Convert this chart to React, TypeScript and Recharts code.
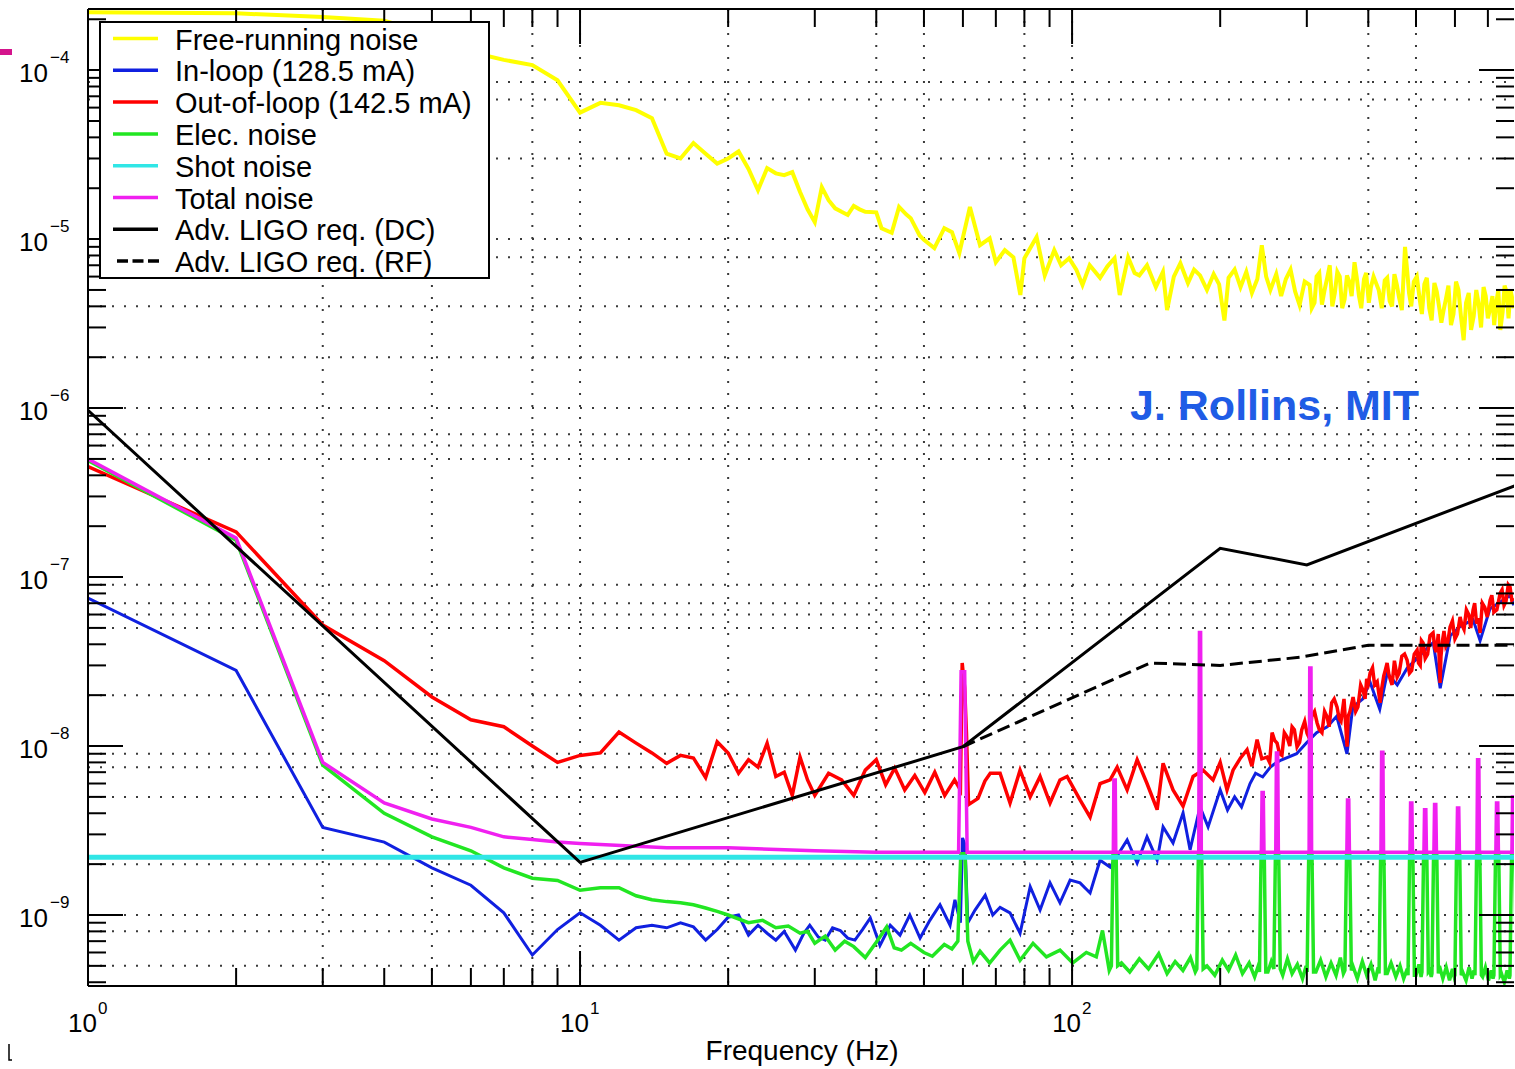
import React from 'react';
import { LineChart, Line, XAxis, YAxis, CartesianGrid } from 'recharts';

const W = 1515;
const H = 1069;
const X_DOMAIN: [number, number] = [1, 791];
const Y_DOMAIN: [number, number] = [3.8e-10, 2.3e-4];

const YELLOW = '#ffff00';
const BLUE = '#1020e0';
const RED = '#ff0000';
const GREEN = '#22e622';
const CYAN = '#30e6e6';
const MAGENTA = '#f020f0';
const BLACK = '#000000';

// Free-running noise [Hz, value]
const freeRunning: number[][] = [
  [1, 2.2e-4], [2, 2.17e-4], [3, 2.06e-4], [4, 1.96e-4], [5, 1.62e-4], [6, 1.28e-4], [7, 1.15e-4], [8, 1.07e-4],
  [9, 8.7e-5], [10, 5.6e-5], [11, 6.4e-5], [12, 6.2e-5], [13, 5.8e-5], [14, 5.2e-5], [15, 3.2e-5], [16, 3.0e-5],
  [17, 3.7e-5], [18, 3.2e-5], [19, 2.8e-5], [20, 3.0e-5], [21, 3.3e-5], [22, 2.6e-5], [23, 1.95e-5], [24, 2.63e-5],
  [25, 2.45e-5], [26, 2.39e-5], [27, 2.49e-5], [28, 1.9e-5], [29, 1.5e-5], [30, 1.26e-5], [31, 2.03e-5], [32, 1.7e-5],
  [33, 1.52e-5], [34, 1.45e-5], [35, 1.39e-5], [36, 1.57e-5], [37, 1.5e-5], [38, 1.45e-5], [40, 1.44e-5], [41, 1.16e-5],
  [43, 1.09e-5], [44.5, 1.55e-5], [46, 1.4e-5], [47, 1.33e-5], [49, 1.05e-5], [50, 9.9e-6], [52.5, 8.85e-6], [55, 1.16e-5],
  [57, 1.1e-5], [59, 8.26e-6], [62, 1.55e-5], [65, 9.2e-6], [68, 1.01e-5], [70, 7.3e-6], [73, 8.6e-6], [76, 7.8e-6],
  [78.5, 4.67e-6], [80, 7.7e-6], [84.7, 1.03e-5], [88, 6.1e-6], [92, 8.6e-6], [95, 7.0e-6], [98.6, 7.7e-6], [102, 6.6e-6],
  [105, 5.35e-6], [108.6, 7.0e-6], [114, 5.9e-6], [118, 6.9e-6], [122, 7.7e-6], [125, 4.67e-6], [130, 7.8e-6], [134, 6.3e-6],
  [137, 6.1e-6], [142, 7.0e-6], [148, 5.2e-6], [153, 6.4e-6], [156, 3.8e-6], [161, 6.0e-6], [166, 7.2e-6], [172, 5.5e-6],
  [177, 6.6e-6], [182, 6.1e-6], [188, 5.0e-6], [194, 6.2e-6], [199, 5.4e-6], [204, 3.3e-6], [208, 5.9e-6], [214, 6.6e-6],
  [220, 5.2e-6], [226, 6.4e-6], [232, 4.8e-6], [238, 5.8e-6], [243, 9.2e-6], [248, 6.0e-6], [253, 5.0e-6], [260, 6.2e-6],
  [266, 4.6e-6], [272, 5.8e-6], [278, 6.6e-6], [284, 4.9e-6], [290, 4.07e-6], [297, 5.6e-6], [304, 5.35e-6], [307, 3.9e-6],
  [311, 4.2e-6], [314, 6.0e-6], [318, 6.3e-6], [322, 4.1e-6], [326, 5.0e-6], [330, 5.9e-6], [334, 7.0e-6], [338, 4.0e-6],
  [342, 4.8e-6], [346, 6.4e-6], [350, 6.0e-6], [354, 3.9e-6], [358, 4.4e-6], [362, 6.1e-6], [366, 5.6e-6], [370, 4.6e-6],
  [375, 7.3e-6], [379, 5.9e-6], [383, 4.6e-6], [387, 3.9e-6], [392, 5.8e-6], [396, 6.3e-6], [401, 4.2e-6], [405, 5.2e-6],
  [410, 6.0e-6], [420, 5.0e-6], [426, 3.9e-6], [432, 5.7e-6], [437, 5.9e-6], [442, 4.3e-6], [447, 4.0e-6], [452, 6.2e-6],
  [457, 5.4e-6], [462, 4.5e-6], [468, 3.8e-6], [475, 9.0e-6], [480, 6.4e-6], [484, 4.8e-6], [489, 4.0e-6], [495, 5.6e-6],
  [502, 6.0e-6], [509, 4.36e-6], [514, 3.6e-6], [520, 5.4e-6], [526, 5.9e-6], [532, 3.9e-6], [538, 3.3e-6], [545, 5.5e-6],
  [551, 4.9e-6], [557, 4.0e-6], [563, 3.2e-6], [569, 3.8e-6], [575, 4.4e-6], [582, 5.3e-6], [589, 3.1e-6], [596, 3.6e-6],
  [603, 5.6e-6], [610, 5.0e-6], [617, 3.5e-6], [625, 2.52e-6], [632, 4.2e-6], [640, 4.8e-6], [647, 2.9e-6], [655, 3.5e-6],
  [663, 5.0e-6], [671, 4.07e-6], [678, 3.0e-6], [686, 5.2e-6], [693, 4.6e-6], [700, 3.4e-6], [708, 3.9e-6], [715, 4.6e-6],
  [721, 3.1e-6], [728, 4.2e-6], [735, 5.0e-6], [742, 2.9e-6], [750, 3.7e-6], [757, 5.3e-6], [765, 4.8e-6], [771, 3.4e-6],
  [778, 5.0e-6], [784, 4.5e-6], [790, 3.9e-6],
];

// In-loop (128.5 mA)
const inLoop: number[][] = [
  [1, 7.5e-8], [2, 2.8e-8], [3, 3.3e-9], [4, 2.7e-9], [5, 1.9e-9], [6, 1.5e-9], [7, 1.03e-9], [8, 5.8e-10],
  [9, 8.2e-10], [10, 1.03e-9], [11, 8.7e-10], [12, 7.1e-10], [13, 8.4e-10], [14, 8.7e-10], [15, 8.4e-10], [16, 9.0e-10],
  [17, 8.5e-10], [18, 7.1e-10], [19, 8.2e-10], [20, 9.7e-10], [21, 1.0e-9], [22, 7.6e-10], [23, 8.7e-10], [24, 7.8e-10],
  [25, 7.1e-10], [26, 8.0e-10], [27.4, 6.2e-10], [28.5, 7.8e-10], [29.3, 8.7e-10], [30.5, 7.4e-10], [31.5, 7.1e-10], [32.6, 8.4e-10],
  [33.8, 8.1e-10], [35, 7.3e-10], [36.2, 7.1e-10], [37.5, 8.2e-10], [38.9, 9.6e-10], [40.7, 6.6e-10], [42.7, 8.7e-10], [44.7, 7.6e-10],
  [46.8, 1.0e-9], [49.1, 7.3e-10], [51.4, 9.3e-10], [53.9, 1.15e-9], [56.5, 8.7e-10], [57.8, 1.23e-9], [59.3, 9.0e-10], [59.9, 2.86e-9],
  [60.6, 2.6e-9], [61.4, 9.0e-10], [63.5, 1.07e-9], [66.6, 1.31e-9], [69, 1.0e-9], [71.4, 1.11e-9], [74.8, 1.03e-9], [78.4, 7.8e-10],
  [82.2, 1.47e-9], [86.1, 1.07e-9], [90.2, 1.55e-9], [94.5, 1.18e-9], [99.1, 1.61e-9], [103.8, 1.55e-9], [108.8, 1.35e-9], [114, 2.11e-9],
  [119.5, 1.92e-9], [129.4, 2.78e-9], [135.6, 2.03e-9], [142, 2.9e-9], [148.9, 2.11e-9], [153.1, 3.32e-9], [160.4, 2.67e-9], [168.1, 4.02e-9],
  [173.7, 2.43e-9], [182, 4.36e-9], [189, 3.32e-9], [200, 5.5e-9], [207, 4.18e-9], [214, 5.0e-9], [221, 4.36e-9], [230, 6.0e-9],
  [236, 6.9e-9], [244, 6.56e-9], [253, 7.5e-9], [259, 7.9e-9], [266, 8.26e-9], [286, 9.0e-9], [300, 1.05e-8], [314, 1.2e-8],
  [330, 1.3e-8], [345, 1.5e-8], [362, 9.0e-9], [372, 1.7e-8], [390, 1.9e-8], [403, 2.4e-8], [422, 1.65e-8], [437, 2.7e-8],
  [458, 2.3e-8], [480, 2.9e-8], [503, 3.3e-8], [517, 3.6e-8], [542, 4.1e-8], [560, 2.2e-8], [587, 4.5e-8], [615, 5.1e-8],
  [653, 5.6e-8], [675, 4.2e-8], [707, 6.5e-8], [741, 7.1e-8], [777, 7.8e-8], [790, 6.8e-8],
];

// Out-of-loop (142.5 mA)
const outOfLoop: number[][] = [
  [1, 4.5e-7], [2, 1.85e-7], [3, 5.2e-8], [4, 3.2e-8], [5, 1.95e-8], [6, 1.43e-8], [7, 1.3e-8], [8, 1.0e-8],
  [9, 8.0e-9], [10, 8.8e-9], [11, 9.1e-9], [12, 1.21e-8], [13, 1.04e-8], [14, 9.1e-9], [15, 7.9e-9], [16, 8.8e-9],
  [17, 8.5e-9], [18, 6.5e-9], [19, 1.06e-8], [20, 9.1e-9], [21, 6.9e-9], [22, 8.3e-9], [23, 7.5e-9], [24, 1.04e-8],
  [25, 6.6e-9], [26, 7.0e-9], [27, 5.1e-9], [28, 8.6e-9], [29, 6.3e-9], [30, 5.1e-9], [32, 6.9e-9], [34, 6.3e-9],
  [36, 5.1e-9], [38, 7.2e-9], [40, 8.3e-9], [41.8, 5.9e-9], [43.6, 7.4e-9], [45.7, 5.5e-9], [47.9, 6.7e-9], [50.2, 5.3e-9],
  [52.6, 7.0e-9], [55.1, 5.1e-9], [57.7, 6.3e-9], [59.3, 5.5e-9], [59.8, 3.1e-8], [60.5, 2.2e-8], [61, 1.2e-8], [61.6, 4.5e-9],
  [64.4, 4.9e-9], [66.5, 6.2e-9], [68.2, 6.9e-9], [71.4, 6.9e-9], [74.8, 4.6e-9], [78.4, 7.2e-9], [82.2, 5.0e-9], [86.1, 6.6e-9],
  [90.2, 4.6e-9], [94.5, 6.3e-9], [97.7, 6.6e-9], [103.8, 4.8e-9], [108.8, 3.8e-9], [114, 6.0e-9], [119.5, 6.3e-9], [123.5, 7.5e-9],
  [129.4, 5.5e-9], [135.6, 8.3e-9], [142, 6.0e-9], [148.9, 4.2e-9], [153.1, 7.9e-9], [160.4, 5.5e-9], [168.1, 4.4e-9], [176.2, 6.6e-9],
  [184.6, 7.2e-9], [193.4, 6.3e-9], [200, 8.0e-9], [206.5, 5.5e-9], [212.4, 7.2e-9], [220, 8.5e-9], [226.8, 9.5e-9], [232, 7.6e-9],
  [237.7, 1.09e-8], [243, 8.4e-9], [249, 8.6e-9], [252, 8.0e-9], [255, 1.2e-8], [258, 1.08e-8], [261, 1.04e-8], [264, 9.0e-9],
  [267, 8.8e-9], [270, 1.2e-8], [273.5, 1.13e-8], [277, 1.0e-8], [280, 1.3e-8], [283, 1.25e-8], [286.6, 9.9e-9], [290, 1.05e-8],
  [293, 1.25e-8], [297, 1.4e-8], [300.3, 1.19e-8], [304, 1.1e-8], [307, 1.5e-8], [311, 1.6e-8], [314.8, 1.37e-8], [318, 1.25e-8],
  [322, 1.2e-8], [326, 1.6e-8], [329.8, 1.49e-8], [333, 1.3e-8], [337, 1.8e-8], [341, 1.9e-8], [345.6, 1.7e-8], [349, 1.45e-8],
  [352, 1.4e-8], [357, 1.9e-8], [362.2, 9.9e-9], [364, 1.5e-8], [367, 1.6e-8], [372.5, 1.95e-8], [377, 1.6e-8], [381, 1.7e-8],
  [386, 2.3e-8], [390.4, 2.14e-8], [394, 1.9e-8], [397, 2.5e-8], [400, 2.35e-8], [403.4, 2.7e-8], [408, 2.9e-8], [412, 2.3e-8],
  [417, 2.4e-8], [422.7, 1.8e-8], [426, 2.2e-8], [430, 2.6e-8], [433, 2.8e-8], [436.8, 3.1e-8], [441, 2.6e-8], [447, 2.3e-8],
  [452, 3.2e-8], [457.8, 2.56e-8], [462, 2.7e-8], [468, 3.4e-8], [474, 3.5e-8], [479.6, 3.23e-8], [485, 2.7e-8], [490, 2.8e-8],
  [496, 3.5e-8], [502.6, 3.7e-8], [506, 3.1e-8], [510, 3.0e-8], [513, 4.2e-8], [516.9, 4.07e-8], [522, 3.3e-8], [528, 3.5e-8],
  [534, 4.5e-8], [541.6, 4.67e-8], [546, 3.8e-8], [550, 3.6e-8], [555, 4.6e-8], [559.7, 2.36e-8], [562, 3.4e-8], [566, 4.2e-8],
  [570, 4.8e-8], [575, 3.9e-8], [580, 4.1e-8], [586.5, 5.06e-8], [593, 5.5e-8], [600, 4.3e-8], [607, 4.6e-8], [614.6, 5.8e-8],
  [620, 5.2e-8], [626, 4.9e-8], [633, 6.4e-8], [640, 6.0e-8], [646, 5.0e-8], [653.1, 6.38e-8], [658, 7.0e-8], [664, 5.3e-8],
  [669, 5.7e-8], [674.9, 4.67e-8], [682, 7.0e-8], [690, 6.6e-8], [698, 5.8e-8], [707.3, 7.3e-8], [713, 7.8e-8], [720, 6.2e-8],
  [730, 6.4e-8], [741.2, 8.0e-8], [748, 8.4e-8], [755, 6.8e-8], [762, 7.2e-8], [770, 9.0e-8], [776.6, 8.7e-8], [783, 7.3e-8],
  [790, 7.5e-8],
];

// Elec. noise
const elecNoise: number[][] = [
  [1, 4.9e-7], [2, 1.65e-7], [3, 7.7e-9], [4, 4.0e-9], [5, 2.9e-9], [6, 2.4e-9], [7, 1.9e-9], [8, 1.65e-9],
  [9, 1.6e-9], [10, 1.4e-9], [11, 1.45e-9], [12, 1.45e-9], [13, 1.3e-9], [14, 1.23e-9], [15, 1.2e-9], [16, 1.18e-9],
  [17, 1.15e-9], [18, 1.1e-9], [19, 1.05e-9], [20, 1.0e-9], [22, 9.0e-10], [23.5, 9.3e-10], [25, 8.4e-10], [26.5, 8.6e-10],
  [28, 7.8e-10], [29, 8.0e-10], [30, 6.8e-10], [31.5, 7.5e-10], [33, 6.2e-10], [34.5, 7.0e-10], [36, 6.5e-10], [38, 5.6e-10],
  [40, 6.9e-10], [42, 8.5e-10], [43.5, 6.4e-10], [45, 6.2e-10], [47, 6.8e-10], [50, 6.0e-10], [52, 5.7e-10], [55, 6.7e-10],
  [57, 6.3e-10], [58.6, 7.0e-10], [59.4, 2.3e-9], [60.6, 2.3e-9], [61.4, 7.0e-10], [63, 5.3e-10], [65, 6.1e-10], [68, 5.2e-10],
  [71.4, 6.2e-10], [74.8, 7.1e-10], [78.4, 5.4e-10], [83.3, 6.8e-10], [88.7, 5.65e-10], [94.5, 6.2e-10], [100.3, 5.2e-10], [106.9, 6.0e-10],
  [112, 5.65e-10], [115.3, 8.1e-10], [119, 4.7e-10],
  [120.2, 5.0e-10], [121.1, 2.3e-9], [122.9, 2.3e-9], [123.8, 5.0e-10],
  [126, 5.2e-10], [131, 4.6e-10], [137, 5.5e-10], [143, 4.8e-10], [150, 5.9e-10], [156, 4.5e-10], [162, 5.3e-10], [168, 4.7e-10],
  [174, 5.6e-10], [178, 4.6e-10],
  [179.3, 4.8e-10], [180.6, 2.3e-9], [183.4, 2.3e-9], [184.7, 4.8e-10],
  [188, 5.0e-10], [195, 4.4e-10], [202, 5.4e-10], [208, 4.7e-10], [215, 5.8e-10], [222, 4.5e-10], [229, 5.2e-10], [235, 4.3e-10],
  [239, 5.0e-10],
  [240.4, 4.6e-10], [242.2, 2.3e-9], [245.8, 2.3e-9], [247.6, 4.6e-10],
  [250, 4.6e-10], [254, 5.3e-10],
  [257.1, 4.8e-10], [259.0, 2.3e-9], [263.0, 2.3e-9], [264.9, 4.8e-10],
  [268, 4.4e-10], [274, 5.5e-10], [280, 4.5e-10], [287, 5.1e-10], [294, 4.2e-10], [299, 5.0e-10],
  [300.4, 4.6e-10], [302.7, 2.3e-9], [307.3, 2.3e-9], [309.6, 4.6e-10],
  [313, 4.6e-10], [320, 5.4e-10], [328, 4.3e-10], [336, 5.2e-10], [344, 4.4e-10], [351, 5.6e-10], [356, 4.5e-10],
  [358.5, 4.7e-10], [361.3, 2.3e-9], [366.7, 2.3e-9], [369.5, 4.7e-10],
  [372, 5.0e-10], [380, 4.2e-10], [389, 5.3e-10], [397, 4.4e-10], [405, 5.1e-10], [413, 4.1e-10], [419, 4.9e-10],
  [420.6, 4.5e-10], [423.8, 2.3e-9], [430.2, 2.3e-9], [433.4, 4.5e-10],
  [437, 4.5e-10], [445, 5.2e-10], [455, 4.3e-10], [464, 5.0e-10], [472, 4.2e-10], [480, 4.8e-10],
  [481.7, 4.4e-10], [485.3, 2.3e-9], [492.7, 2.3e-9], [496.3, 4.4e-10],
  [500, 4.4e-10], [507, 5.1e-10], [512, 4.3e-10],
  [514.2, 4.6e-10], [518.1, 2.3e-9], [525.9, 2.3e-9], [529.8, 4.6e-10],
  [533, 4.7e-10], [537, 4.3e-10],
  [538.8, 4.5e-10], [542.9, 2.3e-9], [551.1, 2.3e-9], [555.2, 4.5e-10],
  [558, 5.0e-10], [567, 4.2e-10], [576, 4.9e-10], [585, 4.1e-10], [593, 4.8e-10], [598, 4.3e-10],
  [599.9, 4.4e-10], [604.4, 2.3e-9], [613.6, 2.3e-9], [618.1, 4.4e-10],
  [622, 4.6e-10], [632, 4.1e-10], [641, 4.9e-10], [650, 4.2e-10], [656, 4.7e-10],
  [659.0, 4.4e-10], [664.0, 2.3e-9], [674.0, 2.3e-9], [679.0, 4.4e-10],
  [683, 4.3e-10], [692, 4.9e-10], [702, 4.1e-10], [711, 4.7e-10], [717, 4.2e-10],
  [720.0, 4.4e-10], [725.5, 2.3e-9], [736.5, 2.3e-9], [742.0, 4.4e-10],
  [746, 4.5e-10], [756, 4.0e-10], [766, 4.7e-10], [774, 4.2e-10],
  [776.2, 4.4e-10], [782.1, 2.3e-9], [793.9, 2.3e-9], [799.8, 4.4e-10],
];

// Shot noise
const shotNoise: number[][] = [[1, 2.2e-9], [800, 2.2e-9]];

// Total noise
const totalNoise: number[][] = [
  [1, 5.0e-7], [2, 1.7e-7], [3, 8.0e-9], [4, 4.6e-9], [5, 3.7e-9], [6, 3.3e-9], [7, 2.9e-9], [8, 2.8e-9],
  [9, 2.7e-9], [10, 2.65e-9], [15, 2.5e-9], [20, 2.5e-9], [30, 2.4e-9], [40, 2.35e-9],
  [58.8, 2.35e-9], [59.5, 2.75e-8], [60.5, 2.75e-8], [61.2, 2.35e-9],
  [121.3, 2.35e-9], [121.6, 6.3e-9], [122.4, 6.3e-9], [122.7, 2.35e-9],
  [180.9, 2.35e-9], [181.5, 4.7e-8], [182.5, 4.7e-8], [183.1, 2.35e-9],
  [242.5, 2.35e-9], [243.3, 5.3e-9], [244.7, 5.3e-9], [245.5, 2.35e-9],
  [259.4, 2.35e-9], [260.2, 9.1e-9], [261.8, 9.1e-9], [262.6, 2.35e-9],
  [303.2, 2.35e-9], [304.1, 2.9e-8], [305.9, 2.9e-8], [306.8, 2.35e-9],
  [361.8, 2.35e-9], [362.9, 4.8e-9], [365.1, 4.8e-9], [366.2, 2.35e-9],
  [424.4, 2.35e-9], [425.7, 9.2e-9], [428.3, 9.2e-9], [429.6, 2.35e-9],
  [486.1, 2.35e-9], [487.5, 4.6e-9], [490.5, 4.6e-9], [491.9, 2.35e-9],
  [518.9, 2.35e-9], [520.4, 4.2e-9], [523.6, 4.2e-9], [525.1, 2.35e-9],
  [543.7, 2.35e-9], [545.4, 4.5e-9], [548.6, 4.5e-9], [550.3, 2.35e-9],
  [605.3, 2.35e-9], [607.2, 4.3e-9], [610.8, 4.3e-9], [612.7, 2.35e-9],
  [665.0, 2.35e-9], [667.0, 8.3e-9], [671.0, 8.3e-9], [673.0, 2.35e-9],
  [726.6, 2.35e-9], [728.8, 4.6e-9], [733.2, 4.6e-9], [735.4, 2.35e-9],
  [783.3, 2.35e-9], [785.6, 5.0e-9], [790.4, 5.0e-9], [792.7, 2.35e-9],
  [800, 2.35e-9],
];

// Adv. LIGO requirements
const ligoDC: number[][] = [[1, 9.7e-7], [10, 2.05e-9], [60, 9.9e-9], [200, 1.48e-7], [300, 1.18e-7], [800, 3.5e-7]];
const ligoRF: number[][] = [[60, 9.9e-9], [144, 3.1e-8], [200, 3.0e-8], [290, 3.35e-8], [400, 3.95e-8], [800, 3.95e-8]];

// Axis tick structure
const MANTISSAS = [1, 2, 3, 4, 5, 6, 7, 8, 9];
const X_DECADES = [0, 1, 2];
const Y_DECADES = [-10, -9, -8, -7, -6, -5, -4];

// Dotted grid positions
const H_GRID = [8.5e-5, 6.7e-5, 3e-5, 1e-5, 7.8e-6, 4e-6, 2e-6, 1e-6, 7e-7, 6e-7, 5e-7, 9e-8, 7e-8, 6e-8, 5e-8, 2e-8, 9e-9, 7.5e-9, 5e-9, 2e-9, 1e-9, 8e-10, 5e-10];
const V_GRID = [3, 5, 8, 10, 20, 40, 50, 80, 100, 400, 500];

const LEGEND_ITEMS = [
  { label: 'Free-running noise', color: YELLOW, dash: '' },
  { label: 'In-loop (128.5 mA)', color: BLUE, dash: '' },
  { label: 'Out-of-loop (142.5 mA)', color: RED, dash: '' },
  { label: 'Elec. noise', color: GREEN, dash: '' },
  { label: 'Shot noise', color: CYAN, dash: '' },
  { label: 'Total noise', color: MAGENTA, dash: '' },
  { label: 'Adv. LIGO req. (DC)', color: BLACK, dash: '' },
  { label: 'Adv. LIGO req. (RF)', color: BLACK, dash: '11 4.5' },
];

const FONT = '"Liberation Sans", Arial, Helvetica, sans-serif';

const rows = (a: number[][]) => a.map(([f, v]) => ({ f, v }));

const xTicks = X_DECADES.flatMap((d) => MANTISSAS.map((m) => m * Math.pow(10, d))).filter(
  (v) => v >= X_DOMAIN[0] && v <= X_DOMAIN[1]
);
const yTicks = Y_DECADES.flatMap((d) => MANTISSAS.map((m) => m * Math.pow(10, d))).filter(
  (v) => v >= Y_DOMAIN[0] && v <= Y_DOMAIN[1]
);

const isMajor = (v: number) => {
  const l = Math.log10(v);
  return Math.abs(l - Math.round(l)) < 1e-6;
};
const expOf = (v: number) => Math.round(Math.log10(v));

const MAJ = 35;
const MIN = 18;

const BottomTick = (p: any) => {
  const { x, y, payload } = p;
  const v = payload.value;
  const maj = isMajor(v);
  return (
    <g>
      <line x1={x} x2={x} y1={y} y2={y - (maj ? MAJ : MIN)} stroke="#000" strokeWidth={2} />
      {maj && (
        <text x={x + 9} y={y + 46} textAnchor="end" fontSize={26} fontFamily={FONT} fill="#000">
          10
        </text>
      )}
      {maj && (
        <text x={x + 10} y={y + 28} fontSize={17} fontFamily={FONT} fill="#000">
          {String(expOf(v))}
        </text>
      )}
    </g>
  );
};

const TopTick = (p: any) => {
  const { x, y, payload } = p;
  const maj = isMajor(payload.value);
  return <line x1={x} x2={x} y1={y} y2={y + (maj ? MAJ : MIN)} stroke="#000" strokeWidth={2} />;
};

const LeftTick = (p: any) => {
  const { x, y, payload } = p;
  const v = payload.value;
  const maj = isMajor(v);
  return (
    <g>
      <line x1={x} x2={x + (maj ? MAJ : MIN)} y1={y} y2={y} stroke="#000" strokeWidth={2} />
      {maj && (
        <text x={x - 40} y={y + 12} textAnchor="end" fontSize={26} fontFamily={FONT} fill="#000">
          10
        </text>
      )}
      {maj && (
        <text x={x - 38} y={y - 7} fontSize={17} fontFamily={FONT} fill="#000">
          {'\u2212' + String(-expOf(v))}
        </text>
      )}
    </g>
  );
};

const RightTick = (p: any) => {
  const { x, y, payload } = p;
  const maj = isMajor(payload.value);
  return <line x1={x} x2={x - (maj ? MAJ : MIN)} y1={y} y2={y} stroke="#000" strokeWidth={2} />;
};

const axisLine = { stroke: '#000', strokeWidth: 2 };

export default function App() {
  return (
    <div style={{ position: 'relative', width: W, height: H, overflow: 'hidden', background: '#fff' }}>
      <style>{'html,body{margin:0;padding:0;overflow:hidden;background:#fff;}'}</style>
      <div style={{ position: 'absolute', left: 0, top: 0, width: W, height: H }}>
        <LineChart width={W} height={H} margin={{ top: 8, right: 0, bottom: 0, left: 0 }}>
          <CartesianGrid
            xAxisId="b"
            yAxisId="l"
            horizontalValues={H_GRID}
            verticalValues={V_GRID}
            syncWithTicks={false}
            stroke="#3a3a3a"
            strokeWidth={2}
            strokeDasharray="2 10"
          />
          <XAxis
            xAxisId="b"
            orientation="bottom"
            type="number"
            dataKey="f"
            scale="log"
            domain={X_DOMAIN}
            allowDataOverflow
            ticks={xTicks}
            interval={0}
            tickLine={false}
            tickSize={0}
            tickMargin={0}
            height={83}
            axisLine={axisLine}
            tick={(p: any) => <BottomTick {...p} />}
          />
          <XAxis
            xAxisId="t"
            orientation="top"
            type="number"
            dataKey="f"
            scale="log"
            domain={X_DOMAIN}
            allowDataOverflow
            ticks={xTicks}
            interval={0}
            tickLine={false}
            tickSize={0}
            tickMargin={0}
            height={1}
            axisLine={axisLine}
            tick={(p: any) => <TopTick {...p} />}
          />
          <YAxis
            yAxisId="l"
            orientation="left"
            type="number"
            scale="log"
            domain={Y_DOMAIN}
            allowDataOverflow
            ticks={yTicks}
            interval={0}
            tickLine={false}
            tickSize={0}
            tickMargin={0}
            width={88}
            axisLine={axisLine}
            tick={(p: any) => <LeftTick {...p} />}
          />
          <YAxis
            yAxisId="r"
            orientation="right"
            type="number"
            scale="log"
            domain={Y_DOMAIN}
            allowDataOverflow
            ticks={yTicks}
            interval={0}
            tickLine={false}
            tickSize={0}
            tickMargin={0}
            width={1}
            axisLine={false}
            tick={(p: any) => <RightTick {...p} />}
          />
          <Line xAxisId="b" yAxisId="l" data={rows(freeRunning)} dataKey="v" type="linear" stroke={YELLOW} strokeWidth={4} dot={false} activeDot={false} isAnimationActive={false} />
          <Line xAxisId="b" yAxisId="l" data={rows(inLoop)} dataKey="v" type="linear" stroke={BLUE} strokeWidth={3} dot={false} activeDot={false} isAnimationActive={false} />
          <Line xAxisId="b" yAxisId="l" data={rows(outOfLoop)} dataKey="v" type="linear" stroke={RED} strokeWidth={3.5} dot={false} activeDot={false} isAnimationActive={false} />
          <Line xAxisId="b" yAxisId="l" data={rows(elecNoise)} dataKey="v" type="linear" stroke={GREEN} strokeWidth={3.5} dot={false} activeDot={false} isAnimationActive={false} />
          <Line xAxisId="b" yAxisId="l" data={rows(shotNoise)} dataKey="v" type="linear" stroke={CYAN} strokeWidth={5} dot={false} activeDot={false} isAnimationActive={false} />
          <Line xAxisId="b" yAxisId="l" data={rows(totalNoise)} dataKey="v" type="linear" stroke={MAGENTA} strokeWidth={3.5} dot={false} activeDot={false} isAnimationActive={false} />
          <Line xAxisId="b" yAxisId="l" data={rows(ligoDC)} dataKey="v" type="linear" stroke={BLACK} strokeWidth={3} dot={false} activeDot={false} isAnimationActive={false} />
          <Line xAxisId="b" yAxisId="l" data={rows(ligoRF)} dataKey="v" type="linear" stroke={BLACK} strokeWidth={3} strokeDasharray="13 6" dot={false} activeDot={false} isAnimationActive={false} />
        </LineChart>
      </div>
      <svg width={W} height={H} style={{ position: 'absolute', left: 0, top: 0, pointerEvents: 'none' }}>
        <rect x={0} y={49} width={12} height={6} fill="#d4148c" />
        <path d="M9 1044 V1060 H12" stroke="#000" strokeWidth={1.5} fill="none" />
        <rect x={100} y={22} width={389} height={256} fill="#fff" stroke="#000" strokeWidth={2} />
        {LEGEND_ITEMS.map((it, i) => {
          const cy = 38.5 + i * 31.8;
          return (
            <g key={it.label}>
              <line
                x1={it.dash ? 117 : 113}
                x2={it.dash ? 159 : 158}
                y1={cy}
                y2={cy}
                stroke={it.color}
                strokeWidth={3.5}
                strokeDasharray={it.dash || undefined}
              />
              <text x={175} y={cy + 11} fontSize={29} fontFamily={FONT} fill="#000">
                {it.label}
              </text>
            </g>
          );
        })}
        <text x={1130} y={420} fontSize={43} fontWeight="bold" fontFamily={FONT} fill="#1f5ce6">
          J. Rollins, MIT
        </text>
        <text x={802} y={1060} textAnchor="middle" fontSize={28} fontFamily={FONT} fill="#000">
          Frequency (Hz)
        </text>
      </svg>
    </div>
  );
}
